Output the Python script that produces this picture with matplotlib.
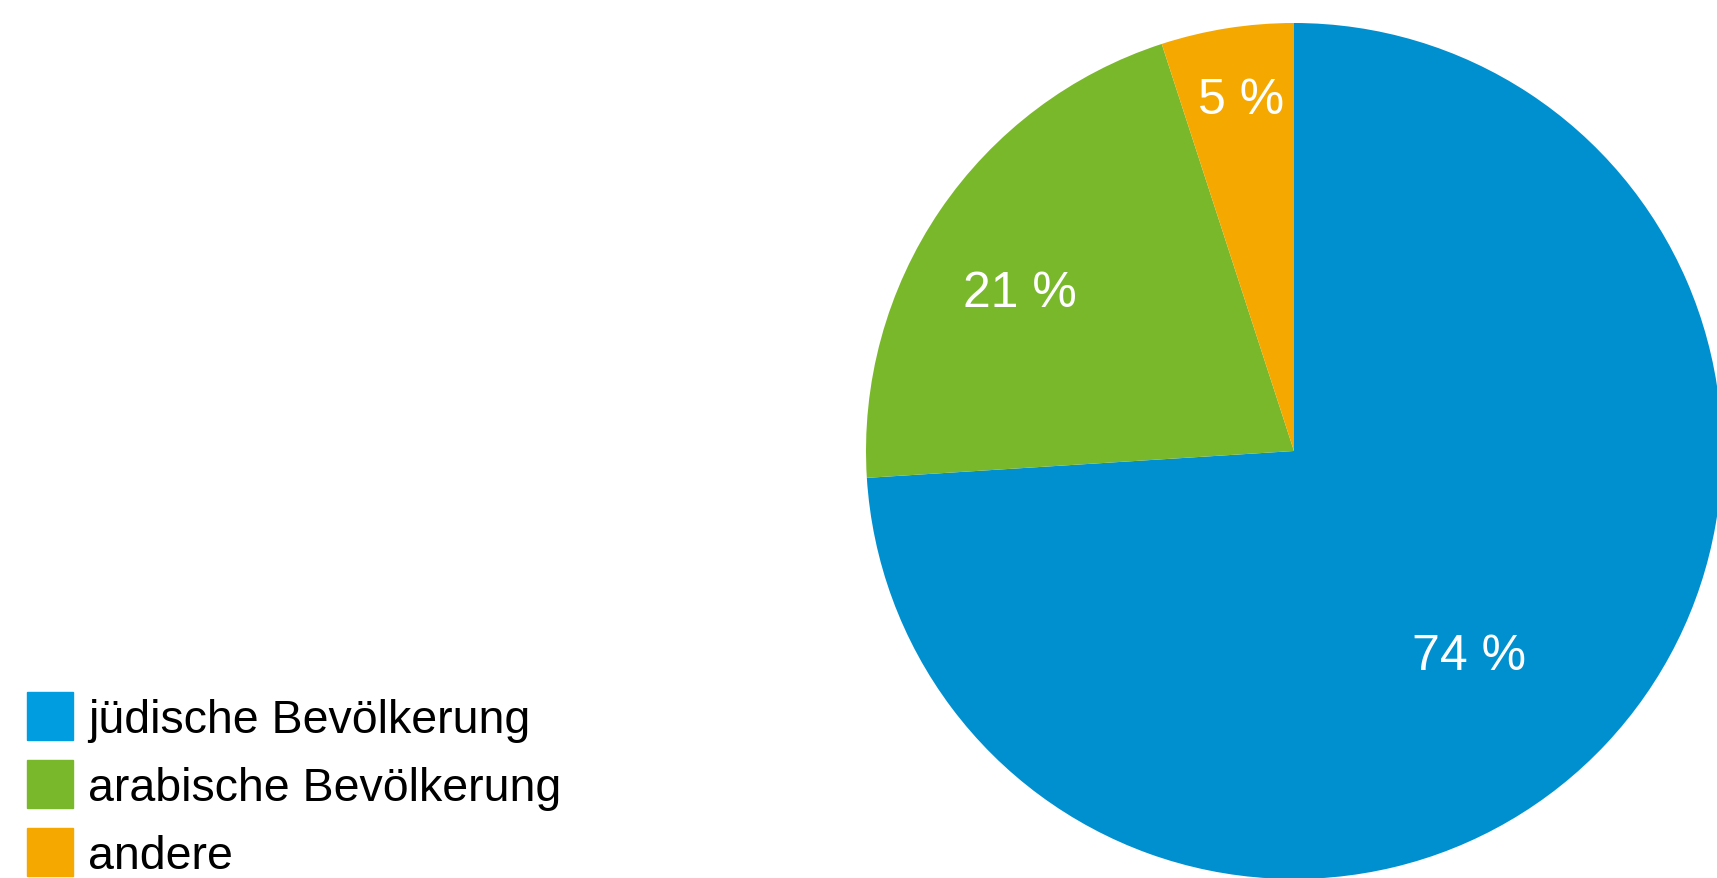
import numpy as np
import matplotlib.pyplot as plt

# data
groups = ['jüdische Bevölkerung', 'arabische Bevölkerung', 'andere']
shares = [74, 21, 5]
pie_colors = ['#0090d0', '#7ab82b', '#f5a800']
legend_colors = ['#009ee0', '#7ab82b', '#f5a800']
# where each percent label sits (fraction of radius, angle in degrees)
label_radius = [0.63, 0.74, 0.83]
label_angle = [-49.5, 150, 98.5]

plt.rcParams['font.family'] = ['Liberation Sans', 'DejaVu Sans']

W, H = 1717, 879
fig = plt.figure(figsize=(W / 100, H / 100), dpi=100)

# pie axes: centre (1294, 452) px from top-left, radius 428 px
cx, cy, r = 1294, 452, 428
ax = fig.add_axes([(cx - r) / W, (H - cy - r) / H, 2 * r / W, 2 * r / H])
wedges, texts = ax.pie(shares, colors=pie_colors, startangle=90, counterclock=False,
                       radius=1, labels=[f'{s} %' for s in shares], labeldistance=0.7,
                       wedgeprops=dict(linewidth=0),
                       textprops=dict(color='white', fontsize=36))
for t, rr, a in zip(texts, label_radius, label_angle):
    ang = np.deg2rad(a)
    t.set_position((rr * np.cos(ang), rr * np.sin(ang)))
    t.set_ha('center')
    t.set_va('center')
ax.set_xlim(-1, 1)
ax.set_ylim(-1, 1)
ax.set_aspect('equal')
ax.axis('off')
for w in wedges:
    w.set_clip_on(False)

handles = [plt.Rectangle((0, 0), 1, 1, color=c) for c in legend_colors]
fig.legend(handles, groups, loc='lower left', bbox_to_anchor=(27 / W, 0),
           frameon=False, prop=dict(size=33.5),
           handlelength=0.99, handleheight=1.2, handletextpad=0.32,
           labelspacing=0.40, borderpad=0.0, borderaxespad=0.0)

fig.savefig('out.png', dpi=100)
